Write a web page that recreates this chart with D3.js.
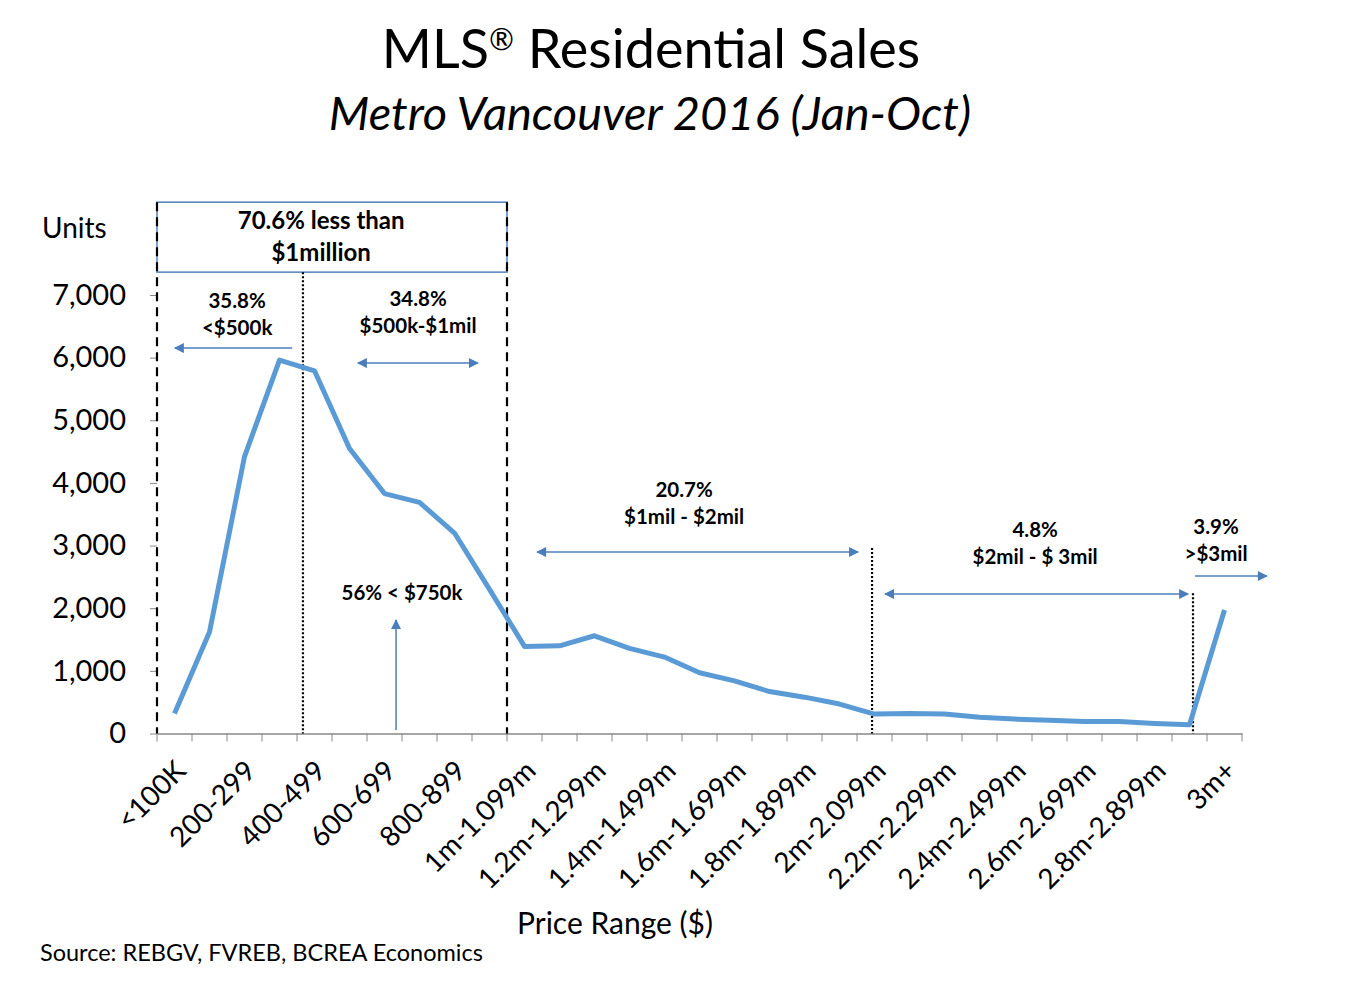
<!DOCTYPE html>
<html>
<head>
<meta charset="utf-8">
<script src="https://cdn.jsdelivr.net/npm/d3@7"></script>
<style>
  body { margin: 0; background: #fff; }
  text { font-family: Lato, "Open Sans", sans-serif; fill: #000; }
</style>
</head>
<body>
<svg id="chart" width="1347" height="999"></svg>
<script>
// price range categories (31 bins)
var categories = ["<100K","100-199","200-299","300-399","400-499","500-599","600-699","700-799","800-899","900-999",
  "1m-1.099m","1.1m-1.199m","1.2m-1.299m","1.3m-1.399m","1.4m-1.499m","1.5m-1.599m","1.6m-1.699m","1.7m-1.799m","1.8m-1.899m","1.9m-1.999m",
  "2m-2.099m","2.1m-2.199m","2.2m-2.299m","2.3m-2.399m","2.4m-2.499m","2.5m-2.599m","2.6m-2.699m","2.7m-2.799m","2.8m-2.899m","2.9m-2.999m",
  "3m+"];
// units sold, Jan-Oct 2016
var units = [320,1620,4420,5960,5790,4550,3830,3690,3200,2300,
  1390,1400,1560,1360,1220,970,840,670,580,470,
  310,320,310,260,230,210,190,190,160,140,
  1970];
var yTicks = [0,1000,2000,3000,4000,5000,6000,7000];

// notes: x in category index units, y in units
var notes = [
  {x: 4.69, y: 8195, text: "70.6% less than", size: 24},
  {x: 4.69, y: 7669, text: "$1million", size: 24},
  {x: 2.29, y: 6902, text: "35.8%", size: 20.5},
  {x: 2.29, y: 6471, text: "<$500k", size: 20.5},
  {x: 7.46, y: 6934, text: "34.8%", size: 20.5},
  {x: 7.46, y: 6503, text: "$500k-$1mil", size: 20.5},
  {x: 7.0, y: 2242, text: "56% < $750k", size: 20.5},
  {x: 15.06, y: 3886, text: "20.7%", size: 20.5},
  {x: 15.06, y: 3455, text: "$1mil - $2mil", size: 20.5},
  {x: 25.09, y: 3248, text: "4.8%", size: 20.5},
  {x: 25.09, y: 2817, text: "$2mil - $ 3mil", size: 20.5},
  {x: 30.26, y: 3296, text: "3.9%", size: 20.5},
  {x: 30.26, y: 2865, text: ">$3mil", size: 20.5}
];
var arrows = [
  {x1: 3.86, x2: 0.51, y1: 6152, y2: 6152, both: false},
  {x1: 5.74, x2: 9.17, y1: 5913, y2: 5913, both: true},
  {x1: 6.83, x2: 6.83, y1: 56, y2: 1811, both: false},
  {x1: 10.86, x2: 20.03, y1: 2897, y2: 2897, both: true},
  {x1: 20.8, x2: 29.46, y1: 2226, y2: 2226, both: true},
  {x1: 29.66, x2: 31.71, y1: 2514, y2: 2514, both: false}
];
var dotted = [{x: 4.17, top: 7365}, {x: 20.43, top: 2960}, {x: 29.6, top: 2240}];

var svg = d3.select("#chart");
var plotLeft = 157, plotRight = 1242, plotTop = 295, plotBottom = 733.5;

var x = d3.scaleBand().domain(categories).range([plotLeft, plotRight]).padding(0);
var xi = d3.scaleLinear().domain([0, categories.length]).range([plotLeft, plotRight]);
var y = d3.scaleLinear().domain([0, 7000]).range([plotBottom, plotTop]);

// title
var t1 = svg.append("text").attr("x", 651).attr("y", 68).attr("text-anchor", "middle")
  .style("font-size", "54px");
t1.append("tspan").text("MLS");
t1.append("tspan").attr("dy", "-18").style("font-size", "30px").text("®");
t1.append("tspan").attr("dy", "18").text(" Residential Sales");
svg.append("text").attr("x", 650).attr("y", 130).attr("text-anchor", "middle")
  .style("font-size", "47px").style("font-style", "italic").text("Metro Vancouver 2016 (Jan-Oct)");

// y axis
var yAxis = d3.axisLeft(y).tickValues(yTicks).tickSize(7).tickPadding(24).tickFormat(d3.format(","));
var gy = svg.append("g").attr("transform", "translate(" + plotLeft + ",0)").call(yAxis);
gy.select(".domain").remove();
gy.selectAll(".tick line").attr("stroke", "#888");
gy.selectAll(".tick text").style("font-size", "29px").attr("fill", "#000");

svg.append("text").attr("x", 42).attr("y", 238).style("font-size", "28px").text("Units");

// x axis
var xAxis = d3.axisBottom(x).tickSize(0).tickFormat(function(d, i) { return i % 2 === 0 ? d : ""; });
var gx = svg.append("g").attr("transform", "translate(0," + plotBottom + ")").call(xAxis);
gx.select(".domain").attr("stroke", "#888").attr("stroke-width", 1.5);
gx.selectAll(".tick text")
  .style("font-size", "28px")
  .attr("text-anchor", "end")
  .attr("transform", "translate(4,30) rotate(-45)")
  .attr("dy", "0.35em");
// boundary ticks
gx.selectAll(".bt").data(d3.range(categories.length + 1)).enter().append("line")
  .attr("x1", function(d) { return xi(d); }).attr("x2", function(d) { return xi(d); })
  .attr("y1", 0).attr("y2", 8).attr("stroke", "#888");

svg.append("text").attr("x", 615).attr("y", 934).attr("text-anchor", "middle")
  .style("font-size", "30px").text("Price Range ($)");
svg.append("text").attr("x", 40).attr("y", 961)
  .style("font-size", "23.5px").text("Source: REBGV, FVREB, BCREA Economics");

// box and dashed lines
var boxTop = y(8482), boxBottom = y(7365);
svg.append("rect").attr("x", xi(0)).attr("y", boxTop).attr("width", xi(10) - xi(0))
  .attr("height", boxBottom - boxTop).attr("fill", "none").attr("stroke", "#4f81bd").attr("stroke-width", 1.5);
[0, 10].forEach(function(k) {
  svg.append("line").attr("x1", xi(k)).attr("x2", xi(k)).attr("y1", boxTop).attr("y2", plotBottom)
    .attr("stroke", "#000").attr("stroke-width", 2.2).attr("stroke-dasharray", "9,6");
});
svg.selectAll(".dot").data(dotted).enter().append("line")
  .attr("x1", function(d) { return xi(d.x); }).attr("x2", function(d) { return xi(d.x); })
  .attr("y1", function(d) { return y(d.top); }).attr("y2", plotBottom)
  .attr("stroke", "#000").attr("stroke-width", 2.2).attr("stroke-dasharray", "2,2");

// arrows
var defs = svg.append("defs");
defs.append("marker").attr("id", "head").attr("viewBox", "0 0 10 10").attr("refX", 9).attr("refY", 5)
  .attr("markerWidth", 12).attr("markerHeight", 10).attr("markerUnits", "userSpaceOnUse").attr("orient", "auto")
  .append("path").attr("d", "M0,0L10,5L0,10z").attr("fill", "#4a7ebb");
defs.append("marker").attr("id", "tail").attr("viewBox", "0 0 10 10").attr("refX", 1).attr("refY", 5)
  .attr("markerWidth", 12).attr("markerHeight", 10).attr("markerUnits", "userSpaceOnUse").attr("orient", "auto")
  .append("path").attr("d", "M10,0L0,5L10,10z").attr("fill", "#4a7ebb");
svg.selectAll(".arrow").data(arrows).enter().append("line")
  .attr("x1", function(d) { return xi(d.x1); }).attr("x2", function(d) { return xi(d.x2); })
  .attr("y1", function(d) { return y(d.y1); }).attr("y2", function(d) { return y(d.y2); })
  .attr("stroke", "#4a7ebb").attr("stroke-width", 1.5)
  .attr("marker-end", "url(#head)")
  .attr("marker-start", function(d) { return d.both ? "url(#tail)" : null; });

// the line
var line = d3.line()
  .x(function(d, i) { return x(categories[i]) + x.bandwidth() / 2; })
  .y(function(d) { return y(d); });
svg.append("path").datum(units).attr("d", line)
  .attr("fill", "none").attr("stroke", "#5b9bd5").attr("stroke-width", 5)
  .attr("stroke-linejoin", "round");

// note text
svg.selectAll(".note").data(notes).enter().append("text")
  .attr("x", function(d) { return xi(d.x); }).attr("y", function(d) { return y(d.y); })
  .attr("dy", "0.35em").attr("text-anchor", "middle")
  .style("font-size", function(d) { return d.size + "px"; }).style("font-weight", "bold")
  .text(function(d) { return d.text; });
</script>
</body>
</html>
